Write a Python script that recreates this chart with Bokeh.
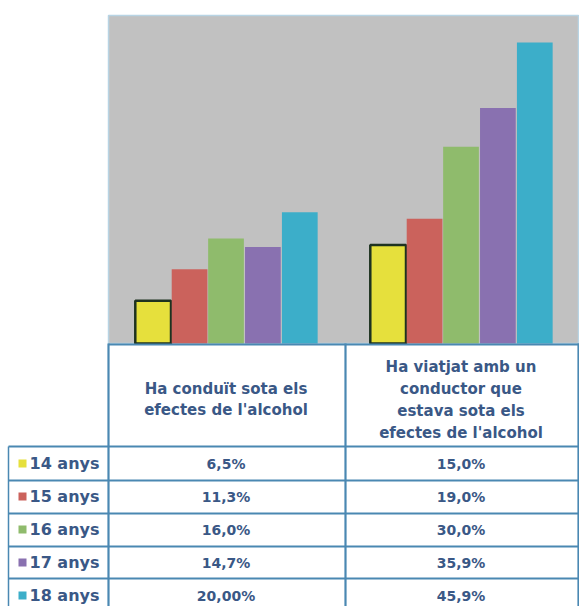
from bokeh.plotting import figure
from bokeh.models import Range1d, ColumnDataSource
from bokeh.core.properties import value
from bokeh.embed import file_html
from bokeh.resources import INLINE

# ---------------- data ----------------
categories = ["Ha conduït sota els efectes de l'alcohol",
              "Ha viatjat amb un conductor que estava sota els efectes de l'alcohol"]
header_lines = [["Ha conduït sota els", "efectes de l'alcohol"],
                ["Ha viatjat amb un", "conductor que", "estava sota els", "efectes de l'alcohol"]]
ages = ["14 anys", "15 anys", "16 anys", "17 anys", "18 anys"]
anys14 = [6.5, 15.0]
anys15 = [11.3, 19.0]
anys16 = [16.0, 30.0]
anys17 = [14.7, 35.9]
anys18 = [20.0, 45.9]
labels14 = ["6,5%", "15,0%"]
labels15 = ["11,3%", "19,0%"]
labels16 = ["16,0%", "30,0%"]
labels17 = ["14,7%", "35,9%"]
labels18 = ["20,00%", "45,9%"]

series = [anys14, anys15, anys16, anys17, anys18]
series_labels = [labels14, labels15, labels16, labels17, labels18]
colors = ["#E6E03C", "#CB625C", "#8FBB6C", "#8971B0", "#3CAEC9"]
outlines = ["#1E3220", None, None, None, None]
offsets = [-0.31, -0.155, 0.0, 0.157, 0.314]
FONT = "DejaVu Sans"
TXT = "#3A5886"
GRID = "#4A88B2"

W, H = 579, 606
CAT_PX = 235.0      # pixel width of one category column
LEFT_PX = 108.0     # left edge of the first category column
BASE_PX = 343.0     # pixel row of the bar baseline
PX_PER_UNIT = 6.56  # pixels per percentage point


def X(px):
    return (px - LEFT_PX) / CAT_PX


def Y(py):
    return (BASE_PX - py) / PX_PER_UNIT


p = figure(x_range=Range1d(X(0), X(W)), y_range=Range1d(Y(H), Y(0)), width=W, height=H,
           toolbar_location=None, output_backend="svg",
           x_axis_location=None, y_axis_location=None,
           min_border_left=0, min_border_right=0, min_border_top=0, min_border_bottom=0)
p.outline_line_color = None
p.xgrid.visible = False
p.ygrid.visible = False
p.background_fill_color = "white"
p.border_fill_color = "white"

# plot area background (0..50 %)
p.quad(left=[0], right=[X(578)], bottom=[0], top=[50], fill_color="#C1C1C1",
       line_color="#B8D4E4", line_width=1.5)

# bars
cat_x = [i + 0.5 for i in range(len(categories))]
for i, s in enumerate(series):
    src = ColumnDataSource(dict(x=[c + offsets[i] for c in cat_x], top=s))
    p.vbar(x="x", top="top", bottom=0, width=0.152, source=src, fill_color=colors[i],
           line_color=outlines[i], line_width=2.5 if outlines[i] else 0)

# ---------------- data table ----------------
col_px = [108, 345, 578]
row_lines_px = [446, 480, 513, 546, 578]
label_left_px = 8
p.segment(x0=[X(c) for c in col_px], y0=[Y(343)] * 3, x1=[X(c) for c in col_px], y1=[Y(H)] * 3,
          line_color=GRID, line_width=2.2)
p.segment(x0=[X(label_left_px)], y0=[Y(446)], x1=[X(label_left_px)], y1=[Y(H)],
          line_color=GRID, line_width=1.5)
p.segment(x0=[X(108)], y0=[Y(344)], x1=[X(W)], y1=[Y(344)], line_color=GRID, line_width=2.2)
p.segment(x0=[X(label_left_px)] * len(row_lines_px), y0=[Y(r) for r in row_lines_px],
          x1=[X(W)] * len(row_lines_px), y1=[Y(r) for r in row_lines_px],
          line_color=GRID, line_width=2.2)

txt_kw = dict(text_font=value(FONT), text_font_style="bold",
              text_color=TXT, text_baseline="middle")

# header texts
centers = [c + 0.0 for c in cat_x]
header_mid_px = [399, 399]
line_step = [21, 22]
for j, lines in enumerate(header_lines):
    n = len(lines)
    ys = [Y(header_mid_px[j] + (k - (n - 1) / 2) * line_step[j]) for k in range(n)]
    p.text(x=[centers[j]] * n, y=ys, text=lines, text_align="center",
           text_font_size="15px", **txt_kw)

# row labels + values
row_y = [Y(463 + k * 33) for k in range(len(ages))]
p.rect(x=[X(22)] * len(ages), y=row_y, width=X(30) - X(22), height=8 / PX_PER_UNIT,
       fill_color=colors, line_color=None)
p.text(x=[X(29)] * len(ages), y=row_y, text=ages, text_align="left",
       text_font_size="16px", **txt_kw)
for j in range(len(categories)):
    p.text(x=[centers[j]] * len(ages), y=row_y, text=[sl[j] for sl in series_labels],
           text_align="center", text_font_size="14px", **txt_kw)

open("out.html", "w").write(file_html(p, INLINE))
